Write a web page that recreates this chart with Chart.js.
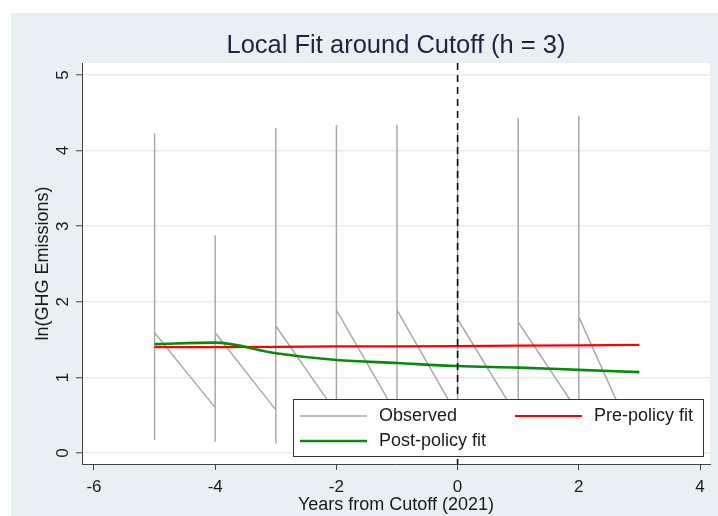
<!DOCTYPE html>
<html><head><meta charset="utf-8">
<script src="https://cdn.jsdelivr.net/npm/chart.js@4.4.1/dist/chart.umd.min.js"></script>
<style>html,body{margin:0;padding:0;background:#fff;}#wrap{width:718px;height:516px;}</style>
</head><body><div id="wrap"><canvas id="c" width="718" height="516"></canvas></div>
<script>
// ---- data ----
const years = [-5, -4, -3, -2, -1, 0, 1, 2, 3];
const obsYm5 = [2.95, 0.17, 4.23, 0.30, 1.59];
const obsYm4 = [0.60, 2.88, 0.15, 2.50, 0.40, 1.59];
const obsYm3 = [0.57, 3.00, 0.13, 4.30, 0.30, 1.68];
const obsYm2 = [0.53, 3.10, 0.15, 4.34, 0.30, 1.89];
const obsYm1 = [0.50, 3.10, 0.15, 4.34, 0.30, 1.89];
const obsY0  = [0.49, 3.10, 0.15, 4.25, 0.30, 1.77];
const obsY1  = [0.46, 3.20, 0.15, 4.43, 0.30, 1.73];
const obsY2  = [0.53, 3.25, 0.15, 4.46, 0.30, 1.80];
const obsY3  = [0.02, 0.60, 0.10, 0.45];
const obsByYear = [obsYm5, obsYm4, obsYm3, obsYm2, obsYm1, obsY0, obsY1, obsY2, obsY3];
const preFit  = [1.40, 1.40, 1.405, 1.41, 1.41, 1.415, 1.42, 1.425, 1.43];
const postFit = [1.44, 1.46, 1.32, 1.23, 1.19, 1.15, 1.13, 1.10, 1.07];
const xTicks = [-6, -4, -2, 0, 2, 4];
const yTicks = [0, 1, 2, 3, 4, 5];
const cutoff = 0;
const titleText = 'Local Fit around Cutoff (h = 3)';
const xTitle = 'Years from Cutoff (2021)';
const yTitle = 'ln(GHG Emissions)';
const labels = ['Observed', 'Pre-policy fit', 'Post-policy fit'];

// ---- build ----
const obsPts = [];
obsByYear.forEach((arr, i) => arr.forEach(v => obsPts.push({x: years[i], y: v})));
const prePts = years.map((x, i) => ({x, y: preFit[i]}));
const postPts = years.map((x, i) => ({x, y: postFit[i]}));

const FONT = "'Liberation Sans', Arial, sans-serif";
const TXT = '#1a1a1a';

const deco = {
  id: 'deco',
  beforeDraw(chart) {
    const c = chart.ctx, a = chart.chartArea;
    c.save();
    c.fillStyle = '#ffffff'; c.fillRect(0, 0, 718, 516);
    c.fillStyle = '#e8f0f3'; c.fillRect(11, 13, 707, 503);
    c.fillStyle = '#ffffff'; c.fillRect(a.left, a.top, a.right - a.left, a.bottom - a.top);
    c.restore();
  },
  afterDatasetsDraw(chart) {
    const c = chart.ctx, a = chart.chartArea, xs = chart.scales.x;
    const px = xs.getPixelForValue(cutoff);
    c.save();
    c.strokeStyle = '#111'; c.lineWidth = 1.6; c.setLineDash([7, 5]);
    c.beginPath(); c.moveTo(px, a.top); c.lineTo(px, a.bottom); c.stroke();
    c.restore();
    // legend
    const ds = chart.data.datasets;
    c.save();
    c.fillStyle = '#fff'; c.fillRect(293, 399, 411, 58);
    c.strokeStyle = '#333'; c.lineWidth = 1; c.strokeRect(293.5, 399.5, 410, 57);
    const slots = [[300, 416, 0], [515, 416, 1], [300, 441, 2]];
    slots.forEach(([x, y, i]) => {
      c.strokeStyle = ds[i].borderColor; c.lineWidth = ds[i].borderWidth;
      c.beginPath(); c.moveTo(x, y); c.lineTo(x + 67, y); c.stroke();
      c.fillStyle = TXT; c.font = '18px ' + FONT; c.textBaseline = 'middle'; c.textAlign = 'left';
      c.fillText(ds[i].label, x + 79, y);
    });
    c.restore();
  },
  afterDraw(chart) {
    const c = chart.ctx, a = chart.chartArea, ys = chart.scales.y;
    const cx = (a.left + a.right) / 2, cy = (a.top + a.bottom) / 2;
    c.save();
    c.fillStyle = '#1c2440'; c.font = '25.5px ' + FONT; c.textAlign = 'center'; c.textBaseline = 'middle';
    c.fillText(titleText, cx, 46);
    c.fillStyle = TXT; c.font = '18px ' + FONT;
    c.fillText(xTitle, cx, 505);
    c.save(); c.translate(43, cy); c.rotate(-Math.PI / 2); c.fillText(yTitle, 0, 0); c.restore();
    c.font = '17px ' + FONT;
    yTicks.forEach(v => {
      const py = ys.getPixelForValue(v);
      c.save(); c.translate(63, py); c.rotate(-Math.PI / 2); c.fillText(String(v), 0, 0); c.restore();
    });
    c.restore();
  }
};

new Chart(document.getElementById('c'), {
  type: 'line',
  data: {
    datasets: [
      {label: labels[0], data: obsPts, borderColor: '#a9a9a9', borderWidth: 1.5, pointRadius: 0, tension: 0, order: 3},
      {label: labels[1], data: prePts, borderColor: '#ff0000', borderWidth: 2.2, pointRadius: 0, tension: 0, order: 2},
      {label: labels[2], data: postPts, borderColor: '#0a8a0a', borderWidth: 2.6, pointRadius: 0, cubicInterpolationMode: 'monotone', order: 1}
    ]
  },
  options: {
    responsive: false, devicePixelRatio: 1, animation: false,
    layout: {padding: {left: 0, top: 63, right: 8, bottom: 0}},
    plugins: {legend: {display: false}, title: {display: false}, tooltip: {enabled: false}},
    scales: {
      x: {
        type: 'linear', min: -6.198, max: 4.165,
        afterBuildTicks: s => { s.ticks = xTicks.map(v => ({value: v})); },
        afterFit: s => { s.height = 52; },
        grid: {display: true, drawOnChartArea: false, drawTicks: true, tickLength: 6, tickColor: '#444', tickWidth: 1},
        border: {display: true, color: '#444', width: 1},
        ticks: {font: {family: FONT, size: 17}, color: TXT, padding: 7, maxRotation: 0, autoSkip: false}
      },
      y: {
        type: 'linear', min: -0.1455, max: 5.159,
        afterBuildTicks: s => { s.ticks = yTicks.map(v => ({value: v})); },
        afterFit: s => { s.width = 82; },
        grid: {display: true, color: '#e4eef0', lineWidth: 1.5, drawTicks: true, tickLength: 6, tickColor: '#444', tickWidth: 1},
        border: {display: true, color: '#444', width: 1},
        ticks: {display: false}
      }
    }
  },
  plugins: [deco]
});
</script></body></html>
